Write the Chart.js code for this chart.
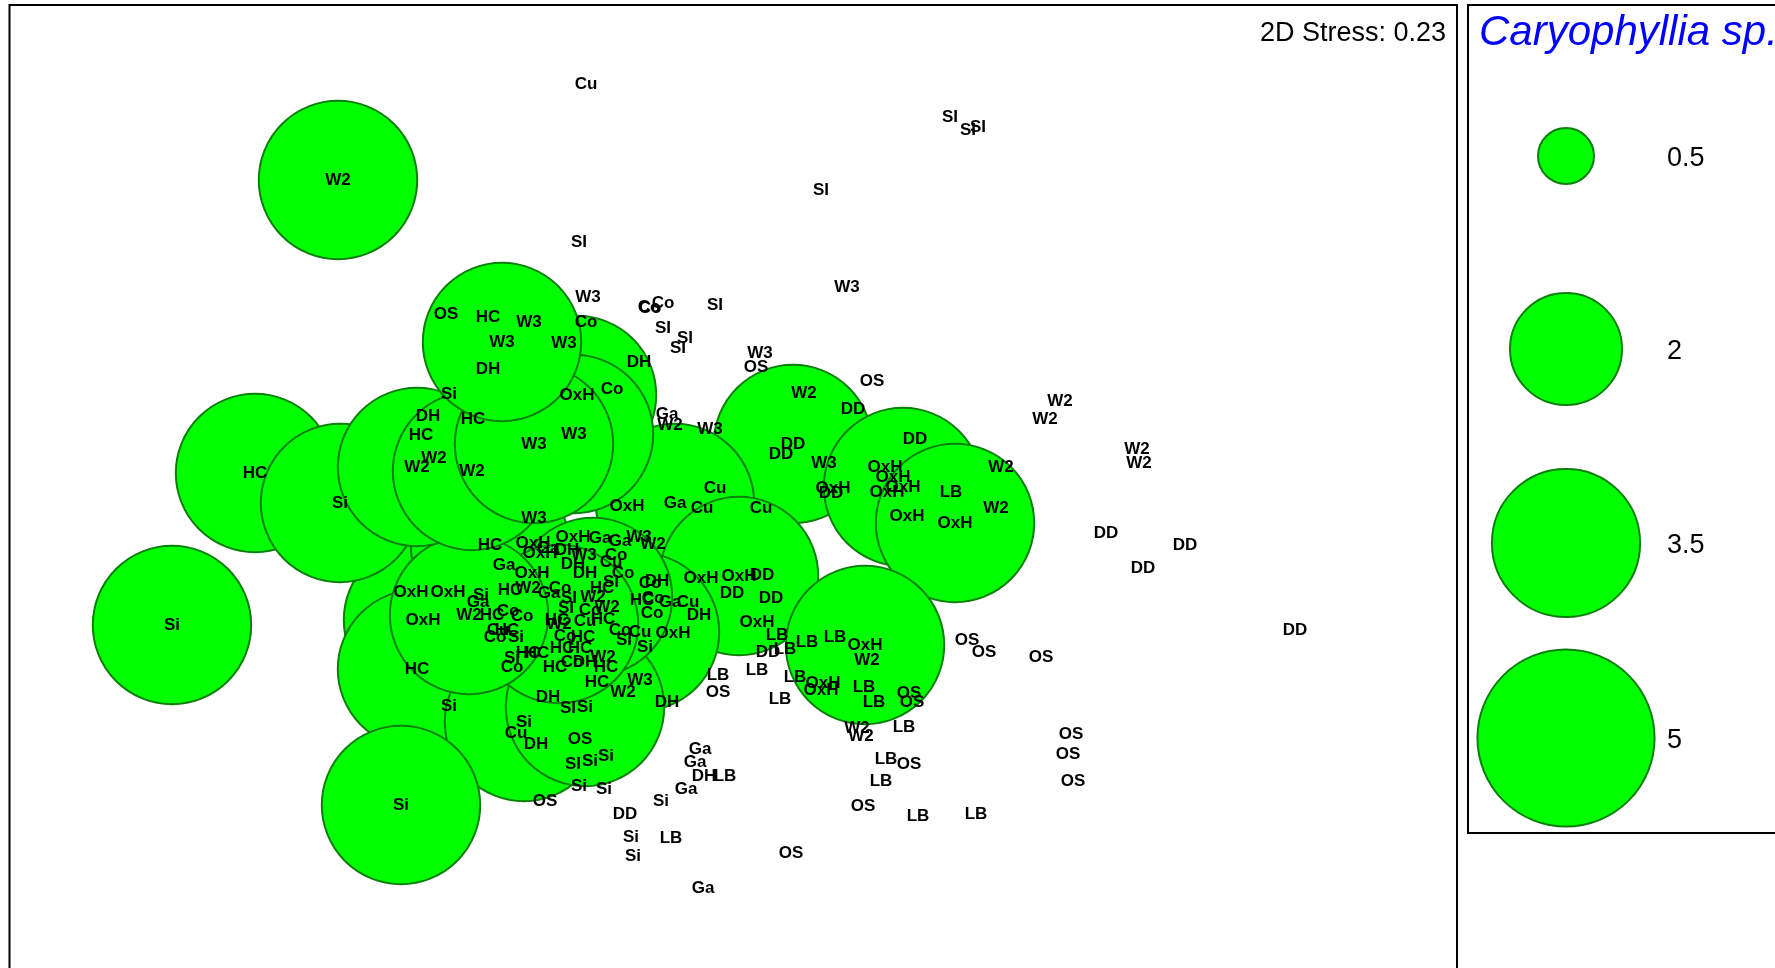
<html lang="en">
<head>
<meta charset="UTF-8">
<title>Caryophyllia sp. bubble nMDS</title>
<style>
  body { margin: 0; background: #fff; overflow: hidden; }
  canvas { display: block; }
</style>
</head>
<body>
<canvas id="mds" width="1775" height="968"></canvas>
<script src="https://cdn.jsdelivr.net/npm/chart.js@4.4.1/dist/chart.umd.min.js"></script>
<script>
// nMDS coordinates per sample group: [x, y, abundance]; abundance left out = 0
const W2 = [
  [-1.41,-1.11,4], [-1.75,-1.38,4], [-2.65,-1.29,4], [-3.17,0.19,4], [-2.62,0.15,4], [-3.96,3.06,4],
  [-3.00,0.28], [-0.64,0.61], [0.70,0.93], [2.67,0.19], [2.62,-0.22], [3.26,0.85], [3.11,0.67],
  [4.03,0.37], [4.05,0.23], [1.23,-2.42], [1.27,-2.50], [1.33,-1.74], [-0.81,-0.58], [-2.06,-1.02],
  [-1.27,-1.21], [-1.31,-1.71], [-1.11,-2.06]
];
const W3 = [
  [-1.60,0.52,4], [-2.00,0.42,4], [-2.32,1.44,4],
  [-1.46,1.89], [1.13,1.99], [0.26,1.33], [-2.05,1.64], [-1.70,1.43], [-0.24,0.57], [0.90,0.23],
  [-2.00,-0.32], [-0.95,-0.51], [-1.50,-0.69], [-0.94,-1.94]
];
const HC = [
  [-4.79,0.13,4], [-2.44,-0.59,4], [-3.17,-1.83,4],
  [-2.46,1.69], [-2.61,0.67], [-3.13,0.51], [-1.32,-1.02], [-2.24,-1.04], [-2.42,-1.29], [-0.92,-1.14],
  [-1.77,-1.34], [-1.31,-1.33], [-2.27,-1.44], [-1.51,-1.51], [-1.72,-1.62], [-1.54,-1.62], [-2.06,-1.67],
  [-1.97,-1.67], [-1.79,-1.81], [-1.28,-1.81], [-1.37,-1.96]
];
const Si = [
  [-2.10,-2.36,4], [-1.49,-2.21,4], [-3.94,-0.17,4], [-5.62,-1.39,4], [-3.33,-3.19,4],
  [-2.85,0.92], [-1.23,-0.96], [-2.53,-1.09], [-2.18,-1.51], [-0.89,-1.61], [-2.22,-1.72], [-2.85,-2.20],
  [-1.44,-2.75], [-1.28,-2.70], [-1.55,-3.00], [-1.30,-3.03], [-1.03,-3.51], [-1.01,-3.70], [-0.73,-3.15]
];
const SI = [
  [2.16,3.69], [2.34,3.56], [2.44,3.59], [0.87,2.96], [-1.55,2.44], [-0.19,1.81], [-0.71,1.58],
  [-0.49,1.48], [-0.56,1.38], [-1.65,-1.12], [-1.68,-1.22], [-1.10,-1.54], [-1.66,-2.22], [-1.61,-2.78]
];
const Cu = [
  [-0.94,-1.46,4],
  [-1.48,4.02], [-0.19,-0.02], [-0.32,-0.22], [0.27,-0.22], [-1.23,-0.76], [-0.46,-1.16], [-1.49,-1.35],
  [-2.36,-1.44], [-2.18,-2.47]
];
const Co = [
  [-0.85,1.79], [-0.84,1.78], [-0.71,1.83], [-1.48,1.64], [-1.22,0.97], [-1.18,-0.69], [-1.11,-0.87],
  [-1.74,-1.02], [-1.44,-1.24], [-2.26,-1.25], [-2.12,-1.30], [-0.84,-0.97], [-0.81,-1.12], [-0.82,-1.27],
  [-1.14,-1.44], [-2.39,-1.51], [-1.69,-1.50], [-2.22,-1.81], [-1.62,-1.76]
];
const DH = [
  [-2.46,1.17], [-0.95,1.24], [-3.06,0.70], [-1.67,-0.64], [-1.61,-0.78], [-1.49,-0.87], [-0.77,-0.95],
  [-0.35,-1.29], [-1.49,-1.76], [-1.86,-2.11], [-0.67,-2.16], [-1.98,-2.58], [-0.30,-2.90]
];
const OxH = [
  [1.69,-0.01,4], [2.21,-0.37,4], [0.05,-0.90,4], [1.31,-1.59,4], [-3.11,-1.34,4], [-1.57,0.91,4],
  [-1.07,-0.20], [0.99,-0.02], [1.51,0.19], [1.59,0.09], [1.53,-0.06], [1.73,-0.30], [0.89,-1.97],
  [0.87,-2.04], [0.23,-1.36], [-0.33,-0.92], [-1.61,-0.51], [-2.01,-0.57], [-1.94,-0.67], [-2.02,-0.87],
  [-3.23,-1.06], [-2.86,-1.06], [-0.61,-1.47]
];
const Ga = [
  [-0.59,-0.17,4],
  [-0.67,0.72], [-1.34,-0.52], [-1.14,-0.55], [-1.86,-0.62], [-2.30,-0.79], [-1.85,-1.07], [-2.56,-1.16],
  [-0.64,-1.16], [-0.34,-2.63], [-0.39,-2.76], [-0.48,-3.03], [-0.31,-4.02]
];
const DD = [
  [0.59,0.42,4],
  [1.19,0.77], [0.47,0.32], [0.97,-0.07], [1.81,0.47], [3.72,-0.47], [4.51,-0.59], [4.09,-0.82],
  [5.61,-1.44], [0.34,-1.66], [-0.02,-1.07], [0.37,-1.12], [0.28,-0.89], [-1.09,-3.28]
];
const OS = [
  [0.22,1.19], [1.38,1.05], [-2.88,1.72], [2.33,-1.54], [2.50,-1.66], [3.07,-1.71], [3.37,-2.48],
  [3.34,-2.68], [3.39,-2.95], [1.75,-2.07], [1.78,-2.16], [1.75,-2.78], [1.29,-3.20], [0.57,-3.67],
  [-0.16,-2.06], [-1.54,-2.53], [-1.89,-3.15]
];
const LB = [
  [2.17,-0.06], [1.70,-2.41], [1.52,-2.73], [1.47,-2.95], [1.84,-3.30], [2.42,-3.28], [1.30,-2.01],
  [1.40,-2.16], [0.61,-1.91], [0.46,-2.13], [0.73,-1.56], [1.01,-1.51], [0.43,-1.49], [0.51,-1.63],
  [0.23,-1.84], [-0.16,-1.89], [-0.63,-3.52], [-0.09,-2.90]
];

const drawOrder = ['SI','OS','LB','Co','DH','DD','Ga','OxH','Cu','HC','Si','W2','W3'];
const legendValues = [0.5, 2, 3.5, 5];
const speciesName = 'Caryophyllia sp.';
const stressText = '2D Stress: 0.23';

const series = { W2, W3, HC, Si, SI, Cu, Co, DH, OxH, Ga, DD, OS, LB };

// bubble area proportional to abundance
const bubbleR = v => 39.6 * Math.sqrt(v);

const points = [];
drawOrder.forEach(name => {
  series[name].forEach(p => {
    points.push({ x: p[0], y: p[1], r: bubbleR(p[2] || 0), label: name });
  });
});

const labelPlugin = {
  id: 'sampleLabels',
  afterDatasetsDraw(chart) {
    const ctx = chart.ctx;
    const meta = chart.getDatasetMeta(0);
    ctx.save();
    ctx.fillStyle = '#000';
    ctx.font = 'bold 17px "Liberation Sans", Arial, sans-serif';
    ctx.textAlign = 'center';
    ctx.textBaseline = 'middle';
    meta.data.forEach((el, i) => {
      ctx.fillText(points[i].label, el.x, el.y);
    });
    ctx.restore();
  }
};

const framePlugin = {
  id: 'frameAndLegend',
  afterDraw(chart) {
    const ctx = chart.ctx;
    const area = chart.chartArea;
    ctx.save();
    // plot frame (bottom edge runs off the page)
    ctx.strokeStyle = '#000';
    ctx.lineWidth = 2;
    ctx.beginPath();
    ctx.moveTo(area.left - 0.5, 1000);
    ctx.lineTo(area.left - 0.5, area.top);
    ctx.lineTo(area.right - 1, area.top);
    ctx.lineTo(area.right - 1, 1000);
    ctx.stroke();

    ctx.fillStyle = '#000';
    ctx.font = '27px "Liberation Sans", Arial, sans-serif';
    ctx.textAlign = 'right';
    ctx.textBaseline = 'alphabetic';
    ctx.fillText(stressText, area.right - 12, 41);

    // legend box
    const lx = 1468, ly = area.top, lb = 833;
    ctx.beginPath();
    ctx.moveTo(1800, ly);
    ctx.lineTo(lx, ly);
    ctx.lineTo(lx, lb);
    ctx.lineTo(1800, lb);
    ctx.stroke();

    ctx.fillStyle = '#0000ff';
    ctx.font = 'italic 42px "Liberation Sans", Arial, sans-serif';
    ctx.textAlign = 'left';
    ctx.fillText(speciesName, 1479, 45);

    const rowY = [156, 349, 543, 738];
    legendValues.forEach((v, i) => {
      ctx.beginPath();
      ctx.arc(1566, rowY[i], bubbleR(v), 0, Math.PI * 2);
      ctx.fillStyle = '#00ff00';
      ctx.fill();
      ctx.lineWidth = 2;
      ctx.strokeStyle = '#0a7f0a';
      ctx.stroke();
      ctx.fillStyle = '#000';
      ctx.font = '27px "Liberation Sans", Arial, sans-serif';
      ctx.textBaseline = 'middle';
      ctx.fillText(String(v), 1667, rowY[i] + 3);
    });
    ctx.restore();
  }
};

new Chart(document.getElementById('mds'), {
  type: 'bubble',
  data: {
    datasets: [{
      data: points,
      backgroundColor: '#00ff00',
      borderColor: '#0a7f0a',
      borderWidth: 2,
      clip: false
    }]
  },
  options: {
    responsive: false,
    animation: false,
    devicePixelRatio: 1,
    events: [],
    layout: { autoPadding: false, padding: { left: 10, top: 5, right: 317, bottom: 0 } },
    plugins: { legend: { display: false }, tooltip: { enabled: false } },
    scales: {
      x: { type: 'linear', min: -7.24, max: 7.24, display: false },
      y: { type: 'linear', min: -4.82, max: 4.81, display: false }
    }
  },
  plugins: [labelPlugin, framePlugin]
});
</script>
</body>
</html>
